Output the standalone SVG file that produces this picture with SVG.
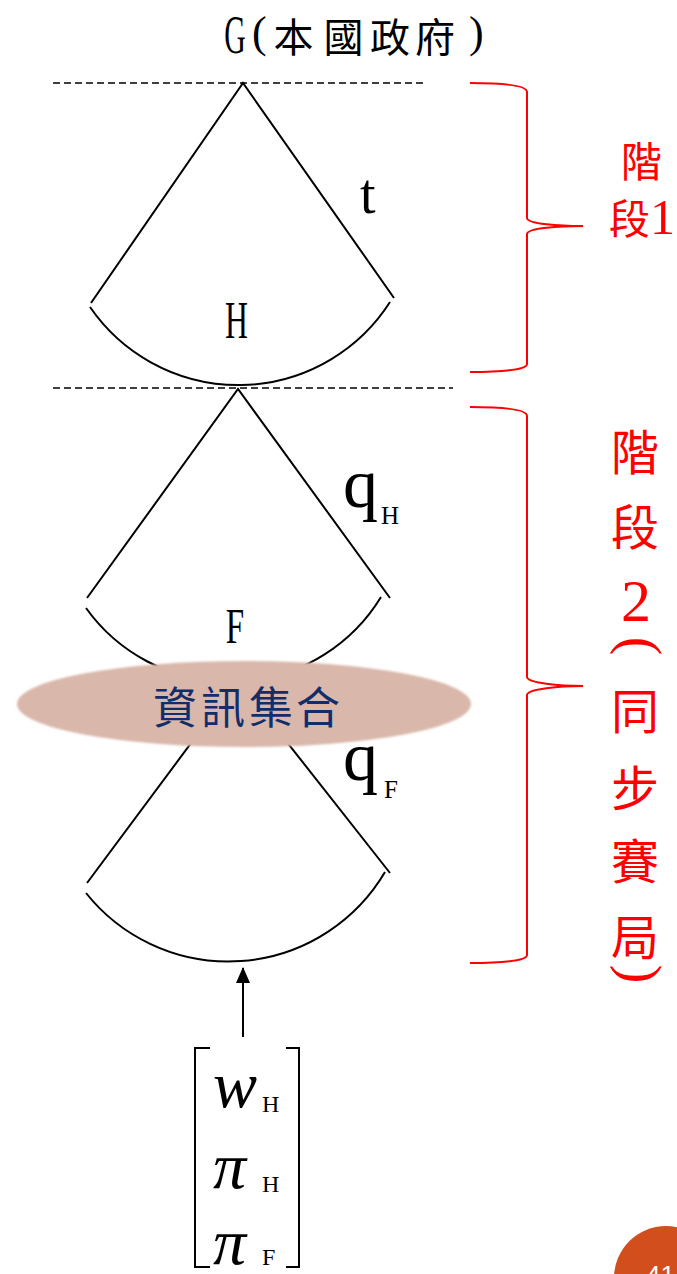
<svg xmlns="http://www.w3.org/2000/svg" width="677" height="1274" viewBox="0 0 677 1274">
<style>
.ln{fill:none;stroke:#000;stroke-width:2}
.dash{fill:none;stroke:#000;stroke-width:1.4;stroke-dasharray:7 4}
.brace{fill:none;stroke:#FF0000;stroke-width:2}
.serif{font-family:"Liberation Serif",serif;fill:#000}
.cjk{font-family:"Noto Sans CJK TC","Noto Sans CJK SC",sans-serif}
.red{fill:#FF0000}
.it{font-family:"Liberation Serif",serif;font-style:italic;fill:#000}
</style>
<defs>
<marker id="arr" viewBox="0 0 16 14" refX="15" refY="7" markerWidth="16" markerHeight="14" markerUnits="userSpaceOnUse" orient="auto">
<path d="M0,0 L16,7 L0,14 Z" fill="#000"/>
</marker>
<filter id="soft" x="-5%" y="-20%" width="110%" height="140%"><feGaussianBlur stdDeviation="1.3"/></filter>
</defs>
<rect width="677" height="1274" fill="#fff"/>

<g id="title">
<text class="serif" font-size="54" text-anchor="middle" transform="translate(235,53) scale(0.55,1)">G</text>
<text class="serif" font-size="44" x="252" y="47">(</text>
<text class="cjk" font-size="40" fill="#000" x="293.5 343.5 390 435" y="52" text-anchor="middle">本國政府</text>
<text class="serif" font-size="44" x="469" y="47">)</text>
</g>

<g id="guides">
<line class="dash" x1="53" y1="83" x2="427" y2="83"/>
<line class="dash" x1="53" y1="388" x2="453" y2="388"/>
</g>

<g id="node-H">
<path class="ln" d="M91,303 L243,83 L394,298"/>
<path class="ln" d="M90,307 A180,180 0 0 0 390,302"/>
<text class="serif" font-size="53" text-anchor="middle" transform="translate(236.5,338) scale(0.6,1)">H</text>
<text class="serif" font-size="56" x="360" y="213">t</text>
</g>

<g id="node-F">
<path class="ln" d="M87,598 L238,389 L390,598"/>
<path class="ln" d="M86,608 A177,177 0 0 0 381,597"/>
<text class="serif" font-size="50" text-anchor="middle" transform="translate(235,643) scale(0.66,1)">F</text>
<text class="serif" font-size="70" x="343" y="507">q</text>
<text class="serif" font-size="25" x="381" y="524">H</text>
</g>

<g id="node-N">
<path class="ln" d="M87,883 L238,680 L390,873"/>
<path class="ln" d="M86,893 A182,182 0 0 0 385,872"/>
<text class="serif" font-size="70" x="343" y="780">q</text>
<text class="serif" font-size="25" x="384" y="798">F</text>
</g>

<g id="info-set">
<ellipse cx="244" cy="704" rx="227" ry="43" fill="#D9B8AB" filter="url(#soft)"/>
<text class="cjk" font-size="44" fill="#112E6B" x="175 223 271 318" y="724" text-anchor="middle">資訊集合</text>
</g>

<g id="connectors">
<line x1="243" y1="1037" x2="243" y2="968" stroke="#000" stroke-width="2" marker-end="url(#arr)"/>
</g>

<g id="vector">
<path class="ln" d="M210,1048 L195,1048 L195,1267 L210,1267"/>
<path class="ln" d="M286,1048 L299,1048 L299,1267 L286,1267"/>
<text class="it" font-size="66" x="213" y="1107">w</text>
<text class="serif" font-size="24" x="262" y="1112">H</text>
<text class="it" font-size="66" x="213" y="1188">π</text>
<text class="serif" font-size="24" x="262" y="1192">H</text>
<text class="it" font-size="66" x="213" y="1264">π</text>
<text class="serif" font-size="24" x="262" y="1265">F</text>
</g>

<g id="stage1">
<path class="brace" d="M470,83 C500,83 527,85 527,92 L527,218 C527,224 560,226 583,226 C560,226 527,228 527,234 L527,364 C527,370 500,372 470,372"/>
<text class="cjk red" font-size="41" x="621" y="177">階</text>
<text class="cjk red" font-size="41" x="609" y="234">段<tspan font-family="Liberation Serif" font-size="50">1</tspan></text>
</g>

<g id="stage2">
<path class="brace" d="M470,407 C500,407 527,409 527,416 L527,677 C527,683 560,686 583,686 C560,686 527,689 527,695 L527,955 C527,961 500,963 470,963"/>
<g class="cjk red" font-size="48" text-anchor="middle">
<text x="635" y="470">階</text>
<text x="635" y="545">段</text>
<text x="636" y="621" font-family="Liberation Serif" font-size="60">2</text>
<text font-family="Liberation Serif" font-size="56" x="0" y="14" transform="translate(636,646) rotate(90)">(</text>
<text x="635" y="729">同</text>
<text x="635" y="806">步</text>
<text x="635" y="879">賽</text>
<text x="635" y="955">局</text>
<text font-family="Liberation Serif" font-size="56" x="0" y="14" transform="translate(636,974) rotate(90)">)</text>
</g>
</g>

<g id="page-badge">
<circle cx="666" cy="1278" r="52" fill="#D24E1C"/>
<text font-family="Liberation Sans,sans-serif" font-size="26" fill="#fff" x="646" y="1284">41</text>
</g>
</svg>
